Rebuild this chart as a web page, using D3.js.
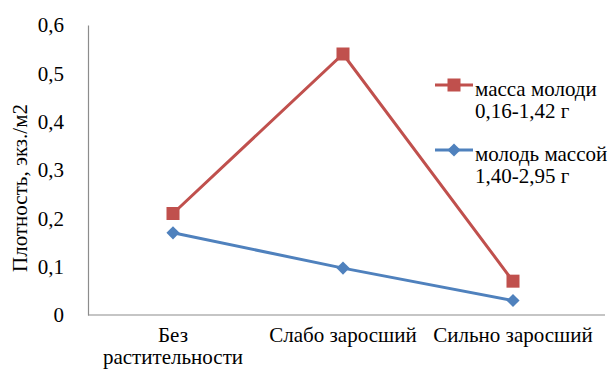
<!DOCTYPE html>
<html><head><meta charset="utf-8"><script src="https://cdn.jsdelivr.net/npm/d3@7"></script></head>
<body style="margin:0">
<svg id="chart" width="613" height="373" font-family="Liberation Serif"></svg>
<script>
// Habitat categories (x axis)
const categories = ["Без растительности", "Слабо заросший", "Сильно заросший"];
const categoryLines = [["Без", "растительности"], ["Слабо заросший"], ["Сильно заросший"]];
// Density, ind./m2, per size group
const smallFry = [0.21, 0.54, 0.07];   // масса молоди 0,16-1,42 г
const largeFry = [0.17, 0.097, 0.03];  // молодь массой 1,40-2,95 г
const yTicks = [0, 0.1, 0.2, 0.3, 0.4, 0.5, 0.6];
const seriesNames = [["масса молоди", "0,16-1,42 г"], ["молодь массой", "1,40-2,95 г"]];

const FONT = "Liberation Serif";
const FS = 21;
const red = "#C0504D", blue = "#4F81BD";

const svg = d3.select("#chart");
const plotLeft = 88, plotRight = 598, plotTop = 25, plotBottom = 315;
const x = d3.scaleBand().domain(categories).range([plotLeft, plotRight]).padding(0);
const y = d3.scaleLinear().domain([0, 0.6]).range([plotBottom, plotTop]);
const fmt = d => d === 0 ? "0" : d3.format(".1f")(d).replace(".", ",");

// y title
svg.append("text")
  .attr("transform", `translate(27,188) rotate(-90)`)
  .attr("text-anchor", "middle").attr("font-size", FS).attr("font-family", FONT)
  .text("Плотность, экз./м2");

// y axis
const yAxis = svg.append("g").attr("transform", `translate(${plotLeft},0)`)
  .call(d3.axisLeft(y).tickValues(yTicks).tickSize(0).tickPadding(24).tickFormat(fmt));
yAxis.attr("font-family", FONT).attr("font-size", FS);
yAxis.select(".domain").attr("stroke", "#8c8c8c").attr("stroke-width", 1.2);
yAxis.selectAll("text").attr("fill", "#000").attr("font-family", FONT).attr("font-size", FS);

// x axis line
svg.append("line").attr("x1", plotLeft).attr("x2", 605).attr("y1", plotBottom).attr("y2", plotBottom)
  .attr("stroke", "#8c8c8c").attr("stroke-width", 1.2);

// category labels
categories.forEach((c, i) => {
  const cx = x(c) + x.bandwidth() / 2;
  categoryLines[i].forEach((ln, j) => {
    svg.append("text").attr("x", cx).attr("y", 342 + j * 22)
      .attr("text-anchor", "middle").attr("font-size", FS).attr("font-family", FONT).text(ln);
  });
});

const cxOf = i => x(categories[i]) + x.bandwidth() / 2;
const line = d3.line().x((d, i) => cxOf(i)).y(d => y(d));
const diamond = d3.symbol().type(d3.symbolDiamond2 || d3.symbolDiamond).size(110);

// series: small fry (squares)
svg.append("path").datum(smallFry).attr("d", line)
  .attr("fill", "none").attr("stroke", red).attr("stroke-width", 3);
svg.selectAll(".sq").data(smallFry).enter().append("rect")
  .attr("x", (d, i) => cxOf(i) - 6.5).attr("y", d => y(d) - 6.5)
  .attr("width", 13).attr("height", 13).attr("fill", red);

// series: large fry (diamonds)
svg.append("path").datum(largeFry).attr("d", line)
  .attr("fill", "none").attr("stroke", blue).attr("stroke-width", 3);
svg.selectAll(".dm").data(largeFry).enter().append("path")
  .attr("d", diamond)
  .attr("transform", (d, i) => `translate(${cxOf(i)},${y(d)})`)
  .attr("fill", blue);

// legend
const legend = [
  { color: red, name: seriesNames[0], y: 85, marker: "square" },
  { color: blue, name: seriesNames[1], y: 150, marker: "diamond" }
];
legend.forEach(l => {
  svg.append("line").attr("x1", 435).attr("x2", 473).attr("y1", l.y).attr("y2", l.y)
    .attr("stroke", l.color).attr("stroke-width", 3);
  if (l.marker === "square") {
    svg.append("rect").attr("x", 447.5).attr("y", l.y - 6.5).attr("width", 13).attr("height", 13).attr("fill", l.color);
  } else {
    svg.append("path").attr("d", diamond).attr("transform", `translate(454,${l.y})`).attr("fill", l.color);
  }
  l.name.forEach((t, j) => {
    svg.append("text").attr("x", 475).attr("y", l.y + 11 + j * 22).attr("font-size", FS)
      .attr("font-family", FONT).text(t);
  });
});
</script>
</body>
</html>
